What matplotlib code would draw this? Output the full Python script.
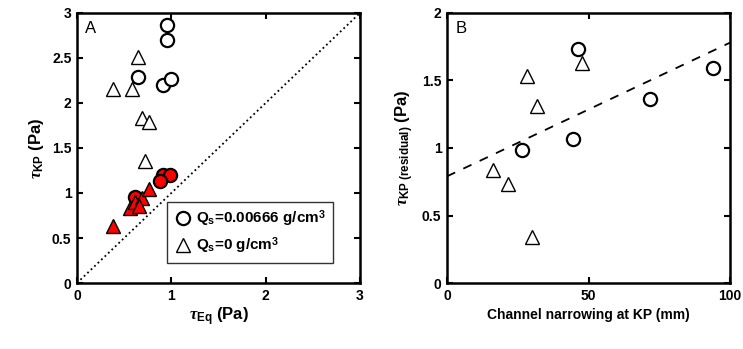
import matplotlib
matplotlib.use("Agg")
import matplotlib.pyplot as plt
import numpy as np

plt.rcParams['font.family'] = ['Liberation Sans', 'DejaVu Sans']
plt.rcParams['font.weight'] = 'bold'
plt.rcParams['axes.labelweight'] = 'bold'
plt.rcParams['mathtext.fontset'] = 'custom'
plt.rcParams['mathtext.rm'] = 'Liberation Sans:bold'
plt.rcParams['mathtext.bf'] = 'Liberation Sans:bold'
plt.rcParams['mathtext.it'] = 'Liberation Serif:italic'

# Panel A: tau_Eq vs tau_KP
circ_open_x = [0.95, 0.95, 0.65, 0.915, 1.0]
circ_open_y = [2.87, 2.70, 2.29, 2.20, 2.27]
tri_open_x = [0.65, 0.385, 0.58, 0.69, 0.76, 0.72]
tri_open_y = [2.51, 2.16, 2.16, 1.83, 1.79, 1.36]
circ_red_x = [0.915, 0.99, 0.88, 0.62]
circ_red_y = [1.20, 1.20, 1.13, 0.96]
tri_red_x = [0.385, 0.56, 0.62, 0.69, 0.76, 0.66]
tri_red_y = [0.63, 0.83, 0.90, 0.94, 1.04, 0.86]

# Panel B: channel narrowing vs residual tau_KP
b_circ_x = [46.4, 94.1, 71.7, 44.6, 26.4]
b_circ_y = [1.73, 1.59, 1.36, 1.07, 0.985]
b_tri_x = [28.2, 47.6, 31.7, 16.4, 21.7, 29.9]
b_tri_y = [1.53, 1.63, 1.31, 0.84, 0.73, 0.34]
fit_intercept = 0.79
fit_slope = 0.0099

fig = plt.figure(figsize=(7.43, 3.49), dpi=100)
axA = fig.add_axes([0.1036, 0.189, 0.381, 0.774])
axB = fig.add_axes([0.6016, 0.189, 0.381, 0.774])

ms = 9.5
mew = 1.6

axA.plot([0, 3], [0, 3], ':', color='black', lw=1.3)
axA.plot(circ_open_x, circ_open_y, 'o', ms=ms, mfc='white', mec='black', mew=mew,
         label='Q$_\\mathrm{s}$=0.00666 g/cm$^\\mathrm{3}$')
axA.plot(tri_open_x, tri_open_y, '^', ms=ms + 1, mfc='white', mec='black', mew=1.0,
         label='Q$_\\mathrm{s}$=0 g/cm$^\\mathrm{3}$')
axA.plot(circ_red_x, circ_red_y, 'o', ms=ms, mfc='red', mec='black', mew=mew)
axA.plot(tri_red_x, tri_red_y, '^', ms=ms + 1, mfc='red', mec='black', mew=1.0)
axA.set_xlim(0, 3)
axA.set_ylim(0, 3)
axA.set_xticks([0, 1, 2, 3])
axA.set_yticks(np.arange(0, 3.01, 0.5))
axA.set_yticklabels(['0', '0.5', '1', '1.5', '2', '2.5', '3'])
axA.set_xlabel('$\\mathit{\\tau}_{\\mathrm{Eq}}$ (Pa)', fontsize=12, labelpad=2)
axA.set_ylabel('$\\mathit{\\tau}_{\\mathrm{KP}}$ (Pa)', fontsize=12, labelpad=4)
axA.text(0.03, 0.97, 'A', transform=axA.transAxes, fontsize=12, fontweight='normal',
         va='top', ha='left')
leg = axA.legend(loc='lower left', bbox_to_anchor=(0.29, 0.045), fontsize=11,
                 frameon=True, fancybox=False, edgecolor='black', handletextpad=0.3,
                 borderpad=0.45, handlelength=1.2, labelspacing=0.4)
leg.get_frame().set_linewidth(1.0)

xfit = np.array([0, 100])
axB.plot(xfit, fit_intercept + fit_slope * xfit, '--', color='black', lw=1.3,
         dashes=(5, 5))
axB.plot(b_circ_x, b_circ_y, 'o', ms=ms, mfc='white', mec='black', mew=mew)
axB.plot(b_tri_x, b_tri_y, '^', ms=ms + 1, mfc='white', mec='black', mew=1.0)
axB.set_xlim(0, 100)
axB.set_ylim(0, 2)
axB.set_xticks([0, 50, 100])
axB.set_yticks([0, 0.5, 1, 1.5, 2])
axB.set_yticklabels(['0', '0.5', '1', '1.5', '2'])
axB.set_xlabel('Channel narrowing at KP (mm)', fontsize=10, labelpad=4)
axB.set_ylabel('$\\mathit{\\tau}_{\\mathrm{KP\\ (residual)}}$ (Pa)', fontsize=12, labelpad=4)
axB.text(0.03, 0.97, 'B', transform=axB.transAxes, fontsize=12, fontweight='normal',
         va='top', ha='left')

for ax in (axA, axB):
    for sp in ax.spines.values():
        sp.set_linewidth(1.8)
    ax.tick_params(direction='in', top=True, right=True, length=4, width=1.5,
                   labelsize=10, pad=4)

fig.savefig('out.png', dpi=100)
